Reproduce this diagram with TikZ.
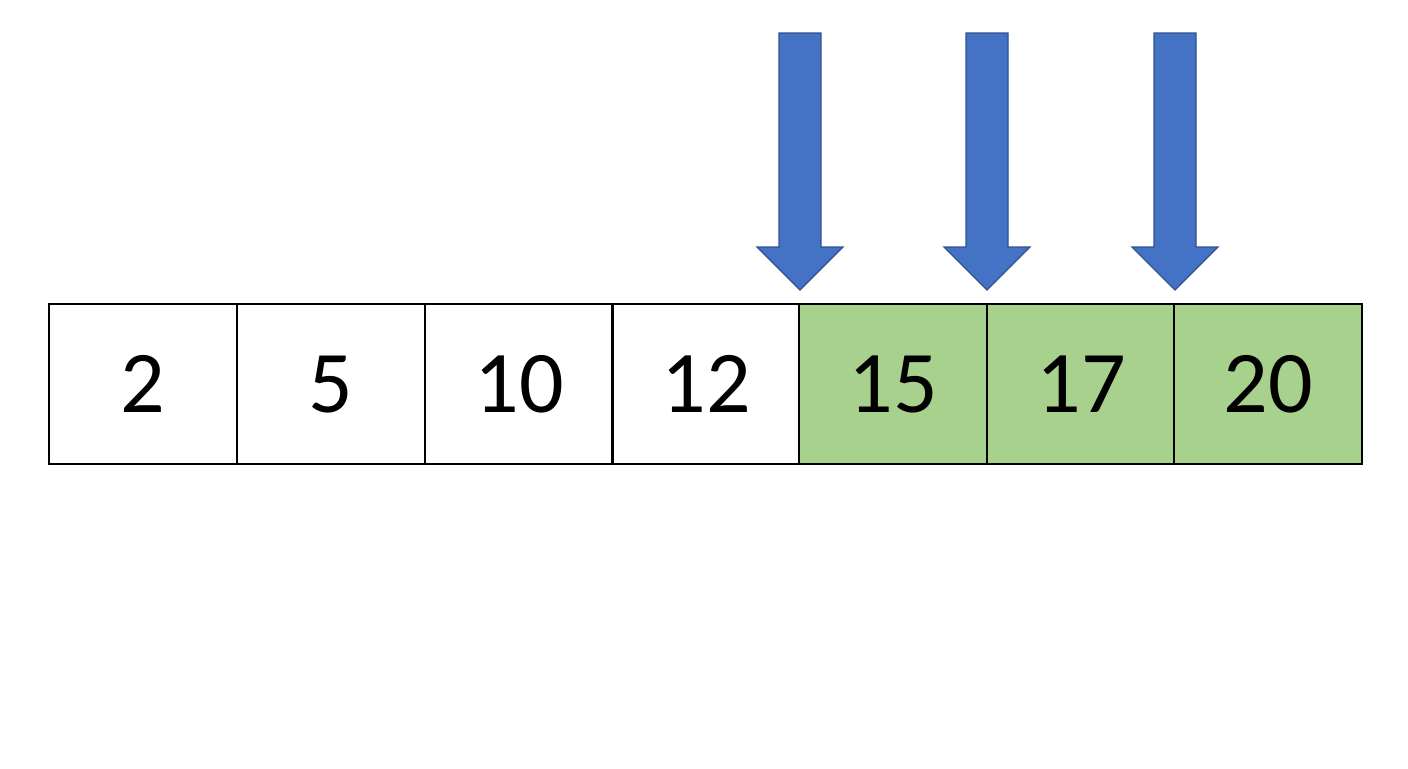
\documentclass[tikz,border=0pt]{standalone}
\usepackage{fontspec}
\setmainfont{Carlito}
\definecolor{cgreen}{HTML}{A9D18E}
\definecolor{cblue}{HTML}{4472C4}
\definecolor{cbluedk}{HTML}{2F528F}
\begin{document}
\begin{tikzpicture}[x=0.5pt,y=-0.5pt,
  cell/.style={draw=black,line width=1.2pt,minimum width=94pt,minimum height=80pt,inner sep=0pt,font=\fontsize{44}{50}\selectfont},
  hit/.style={cell,fill=cgreen},
  arr/.style={fill=cblue,draw=cbluedk,line width=0.6pt}]
\useasboundingbox (0,0) rectangle (1408,768);
\foreach \i/\v/\s [count=\k] in {48/2/cell,236/5/cell,424/10/cell,611/12/cell,798/15/hit,986/17/hit,1173/20/hit}{
  \node[\s,anchor=north west] (c\k) at (\i,303) {\v};
}
\foreach \cx in {800,987,1175}{
  \draw[arr] (\cx-21,33) -- (\cx+21,33) -- (\cx+21,247) -- (\cx+43,247) -- (\cx,290) -- (\cx-43,247) -- (\cx-21,247) -- cycle;
}
\end{tikzpicture}
\end{document}
